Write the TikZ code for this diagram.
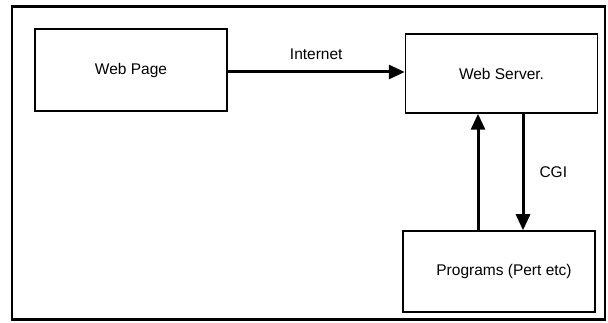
\documentclass[tikz,border=0pt]{standalone}
\usepackage{fontspec}
\setmainfont{Liberation Sans}
\usetikzlibrary{arrows.meta}
\begin{document}
\begin{tikzpicture}[x=1pt,y=-1pt,
  font=\fontsize{15.5}{18}\selectfont,
  box/.style={draw=black,line width=1.5pt,rectangle,inner sep=0pt,
    minimum width=192pt,minimum height=#1},
  box/.default=80pt,
  frame/.style={draw=black,line width=2.2pt,rectangle,inner sep=0pt,
    minimum width=593pt,minimum height=313pt},
  link/.style={line width=3pt,-{Triangle[length=16pt,width=14pt]}},
  lbl/.style={inner sep=0pt}
]
\useasboundingbox (0,0) rectangle (608,323);
% outer border
\node[frame] (frame) at (308.5,163) {};
% boxes
\node[box=82pt] (page) at (131,70) {Web Page};
\node[box=79pt] (srv) at (501.5,73.5) {Web Server.};
\node[box=81pt] (prog) at (499,271.5) {\hspace*{10pt}Programs (Pert etc)};
% connector positions
\coordinate (netrow) at (0,72);
\coordinate (upcol) at (478,0);
\coordinate (downcol) at (523,0);
% Internet link
\draw[link] (page.east |- netrow) -- node[lbl,above=11pt] {Internet} (srv.west |- netrow);
% reply from programs
\draw[link] (prog.north -| upcol) -- (srv.south -| upcol);
% CGI call
\draw[link] (srv.south -| downcol) -- node[lbl,right=15pt] {CGI} (prog.north -| downcol);
\end{tikzpicture}
\end{document}
